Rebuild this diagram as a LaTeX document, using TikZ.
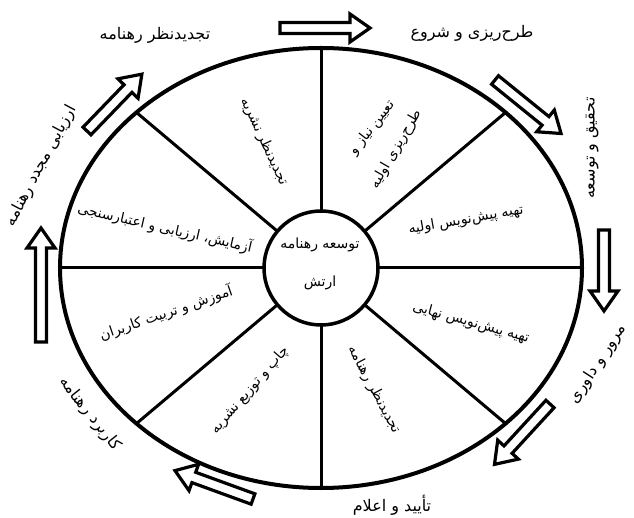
\documentclass[tikz,border=0pt]{standalone}
\usepackage{fontspec}
\newfontfamily\fa[Script=Arabic]{DejaVu Sans}
\TeXXeTstate=1
\newcommand\rtl[1]{\beginR #1\endR}
\newcommand\hollowarrow[3]{%
  \draw[arrowline, shift={#1}, rotate=#2]
    (0,-5.5) -- ({#3-20},-5.5) -- ({#3-20},-14) -- (#3,0) -- ({#3-20},14)
    -- ({#3-20},5.5) -- (0,5.5) -- cycle;}
\tikzset{
  rim/.style={line width=4pt},
  spoke/.style={line width=3pt},
  hub/.style={circle, draw, line width=3.5pt, fill=white, minimum size=114pt, inner sep=0pt},
  arrowline/.style={line width=3.2pt, line join=miter},
  outer/.style={font=\fa\fontsize{16}{18}\selectfont, inner sep=0pt},
  centre/.style={font=\fa\fontsize{14}{16}\selectfont, inner sep=0pt},
  inner/.style={font=\fa\fontsize{14}{16}\selectfont, inner sep=0pt},
}
\begin{document}
\begin{tikzpicture}[x=1pt,y=-1pt]
\useasboundingbox[fill=white] (0,0) rectangle (634,518);
% rim
\coordinate (c) at (321,268);
\draw[rim] (c) ellipse [x radius=261, y radius=220];
% rim points
\coordinate (pN) at (321,48);
\coordinate (pS) at (321,488);
\coordinate (pE) at (582,268);
\coordinate (pW) at (60,268);
\coordinate (pNE) at (505.6,112.4);
\coordinate (pNW) at (136.4,112.4);
\coordinate (pSE) at (505.6,423.6);
\coordinate (pSW) at (136.4,423.6);
% spokes
\foreach \p in {pN,pS,pE,pW,pNE,pNW,pSE,pSW}
  \draw[spoke] (c) -- (\p);
% hub
\node[hub] (hub) at (c) {};
\node[centre] (t1) at (320,245) {\rtl{توسعه رهنامه}};
\node[centre] (t2) at (320,283) {\rtl{ارتش}};
% outer labels
\node[outer] (o1) at (472,33) {\rtl{طرح‌ریزی و شروع}};
\node[outer, rotate=90] (o2) at (592,148) {\rtl{تحقیق و توسعه}};
\node[outer, rotate=57] (o3) at (598,364) {\rtl{مرور و داوری}};
\node[outer] (o4) at (392,505) {\rtl{تأیید و اعلام}};
\node[outer, rotate=-51.5] (o5) at (90,414) {\rtl{کاربرد رهنامه}};
\node[outer, rotate=62] (o6) at (41,166) {\rtl{ارزیابی مجدد رهنامه}};
\node[outer] (o7) at (155,35) {\rtl{تجدیدنظر رهنامه}};
% sector labels
\node[inner, rotate=-65] (s1) at (264,142) {\rtl{تجدیدنظر نشریه}};
\node[inner, rotate=-13] (s2) at (165,228) {\rtl{آزمایش، ارزیابی و اعتبارسنجی}};
\node[inner, rotate=19] (s3) at (166,313) {\rtl{آموزش و تربیت کاربران}};
\node[inner, rotate=49] (s4) at (250,390) {\rtl{چاپ و توزیع نشریه}};
\node[inner, rotate=-62] (s5) at (374,390) {\rtl{تجدیدنظر رهنامه}};
\node[inner, rotate=-15] (s6) at (471,323) {\rtl{تهیه پیش‌نویس نهایی}};
\node[inner, rotate=10] (s7) at (466,220) {\rtl{تهیه پیش‌نویس اولیه}};
\node[inner, rotate=52] (s8a) at (372,128) {\rtl{تعیین نیاز و}};
\node[inner, rotate=60] (s8b) at (396,149) {\rtl{طرح‌ریزی اولیه}};
% block arrows
\hollowarrow{(280,28)}{0}{90}
\hollowarrow{(495,80)}{-39}{85}
\hollowarrow{(604,230)}{-90}{81}
\hollowarrow{(550,404)}{-132.6}{82}
\hollowarrow{(253,499)}{160}{83}
\hollowarrow{(41,342)}{90}{114}
\hollowarrow{(87,131)}{46}{79}
\end{tikzpicture}
\end{document}
